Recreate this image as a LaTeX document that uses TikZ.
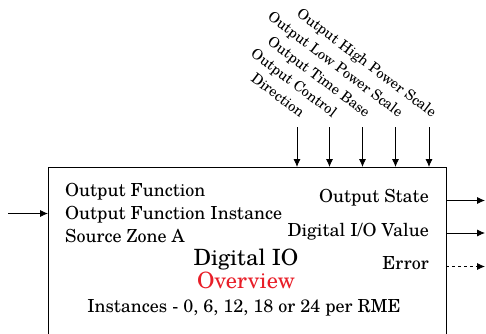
\documentclass[tikz,border=0pt]{standalone}
\usepackage{fontspec}
\setmainfont{TeX Gyre Schola}
\usetikzlibrary{arrows.meta}
\definecolor{ovred}{RGB}{232,30,40}
\tikzset{
  lbl/.style={inner sep=0pt, font=\fontsize{18}{20}\selectfont},
  toplbl/.style={inner sep=0pt, font=\fontsize{14.5}{16}\selectfont, rotate=-37, anchor=base east},
  arr/.style={line width=0.8pt, -{Latex[length=8pt,width=7pt]}},
  box/.style={draw, line width=0.8pt}
}
\begin{document}
\begin{tikzpicture}[x=1pt,y=-1pt]
\useasboundingbox (0,0) rectangle (486,333);
\draw[box] (48,167) rectangle (446,340);
% top inputs
\foreach \n/\x/\t in {a/297/Direction, b/329.5/Output Control, c/362.5/Output Time Base, d/395.5/Output Low Power Scale, e/429/Output High Power Scale}{
  \coordinate (s\n) at (\x,127);
  \coordinate (t\n) at (\x,167);
  \node[toplbl] (l\n) at (\x+3,118) {\t};
  \draw[arr] (s\n) -- (t\n);
}
% left input
\coordinate (lin) at (8,213.5);
\coordinate (lend) at (48,213.5);
\draw[arr] (lin) -- (lend);
\node[lbl, anchor=base west] (f1) at (65,196) {Output Function};
\node[lbl, anchor=base west] (f2) at (65,219) {Output Function Instance};
\node[lbl, anchor=base west] (f3) at (65,242) {Source Zone A};
% right outputs
\node[lbl, anchor=base east] (o1) at (429,202.5) {Output State};
\node[lbl, anchor=base east] (o2) at (429,236) {Digital I/O Value};
\node[lbl, anchor=base east] (o3) at (429,269) {Error};
\coordinate (r1) at (446,200.5);
\coordinate (r2) at (446,233);
\coordinate (r3) at (446,266.5);
\coordinate (e1) at (485,200.5);
\coordinate (e2) at (485,233);
\coordinate (e3) at (485,266.5);
\draw[arr] (r1) -- (e1);
\draw[arr] (r2) -- (e2);
\draw[arr, dashed] (r3) -- (e3);
% title
\node[inner sep=0pt, anchor=base, font=\fontsize{22.4}{26}\selectfont] (title) at (246,265) {Digital IO};
\node[inner sep=0pt, anchor=base, font=\fontsize{22.4}{26}\selectfont, text=ovred] (ov) at (246,288) {Overview};
\node[lbl, anchor=base] (inst) at (244,312) {Instances - 0, 6, 12, 18 or 24 per RME};
\end{tikzpicture}
\end{document}
